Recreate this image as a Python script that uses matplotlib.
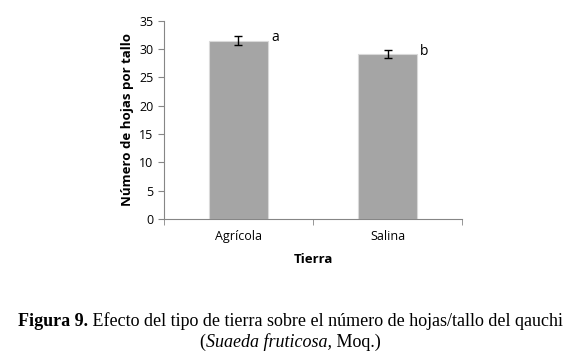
import matplotlib.pyplot as plt

tierra = ['Agrícola', 'Salina']
hojas = [31.5, 29.1]
error = [0.8, 0.75]
letras = ['a', 'b']

fig = plt.figure(figsize=(5.74, 3.6), dpi=100)
ax = fig.add_axes([0.2857, 0.3917, 0.5192, 0.5508])

x = range(len(tierra))
ax.bar(x, hojas, width=0.4, color='#a5a5a5', edgecolor='#d9d9d9', linewidth=0.8,
       yerr=error, error_kw=dict(ecolor='black', elinewidth=1, capsize=3, capthick=1))
for i, (v, e, l) in enumerate(zip(hojas, error, letras)):
    ax.text(i + 0.22, v + e - 0.2, l, fontsize=10, family='Open Sans', ha='left', va='center')

ax.set_xlim(-0.5, 1.5)
ax.set_ylim(0, 35)
ax.set_yticks(range(0, 36, 5))
ax.set_xticks(list(x))
ax.set_xticklabels(tierra, family='Open Sans', fontsize=9)
ax.set_xticks([-0.5, 0.5, 1.5], minor=True)
ax.tick_params(axis='x', which='major', length=0, pad=8)
ax.tick_params(axis='x', which='minor', length=4, color='#868686')
ax.tick_params(axis='y', length=4, color='#868686', labelsize=9)
for t in ax.get_yticklabels():
    t.set_family('Open Sans')
for s in ['top', 'right']:
    ax.spines[s].set_visible(False)
for s in ['left', 'bottom']:
    ax.spines[s].set_color('#868686')

ax.set_ylabel('Número de hojas por tallo', family='Open Sans', fontweight='bold', fontsize=9.5)
ax.set_xlabel('Tierra', family='Open Sans', fontweight='bold', fontsize=9.5, labelpad=7)

# caption, two centred lines made of pieces with different styles
serif = dict(fontsize=13, family='Liberation Serif', va='center', ha='left')
lines = [
    (1 - 321 / 360, [('Figura 9.', dict(fontweight='bold')),
                     (' Efecto del tipo de tierra sobre el número de hojas/tallo del qauchi', {})]),
    (1 - 342 / 360, [('(', {}), ('Suaeda fruticosa,', dict(style='italic')), (' Moq.)', {})]),
]
renderer = fig.canvas.get_renderer()
W = fig.bbox.width
for y, parts in lines:
    texts = [fig.text(0, y, s, **serif, **kw) for s, kw in parts]
    widths = [t.get_window_extent(renderer).width for t in texts]
    xpos = (W - sum(widths)) / 2 + 3
    for t, w in zip(texts, widths):
        t.set_x(xpos / W)
        xpos += w

fig.savefig('out.png', dpi=100)
